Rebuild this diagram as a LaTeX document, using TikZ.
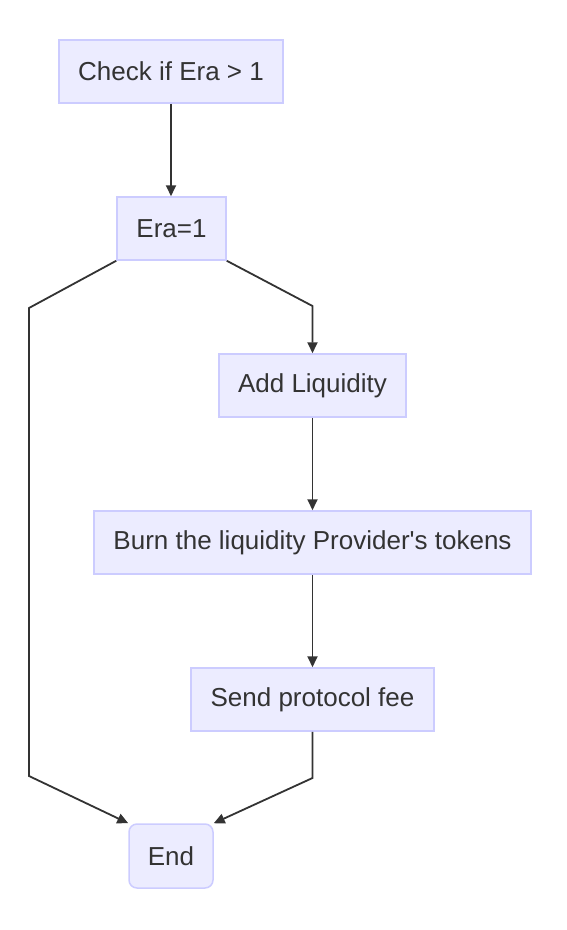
\documentclass[tikz,border=0pt]{standalone}
\usepackage{fontspec}
\setmainfont{Liberation Sans}[Ligatures=TeXOff]
\usetikzlibrary{arrows.meta}
\definecolor{nodefill}{HTML}{ECECFF}
\definecolor{nodeline}{HTML}{CCCCFF}
\definecolor{txt}{HTML}{333333}
\tikzset{
  box/.style={draw=nodeline, fill=nodefill, line width=1.5pt, text=txt,
    font=\fontsize{26pt}{30pt}\selectfont, inner sep=0pt, anchor=center},
  flow/.style={draw=txt, line width=1.8pt, -{Triangle[length=11pt,width=10pt]}},
}
\begin{document}
\begin{tikzpicture}[x=1pt,y=-1pt]
\useasboundingbox (0,0) rectangle (566,930);
\node[box, minimum width=224pt, minimum height=63pt] (check) at (171,71.5) {\raisebox{-1.5pt}{Check if Era > 1}};
\node[box, minimum width=109pt, minimum height=63pt] (era) at (171.5,228.5) {\raisebox{-1.5pt}{Era=1}};
\node[box, minimum width=187pt, minimum height=63pt] (add) at (312.5,385.5) {\raisebox{-1.5pt}{Add Liquidity}};
\node[box, minimum width=437pt, minimum height=63pt] (burn) at (312.5,542.5) {\raisebox{-1.5pt}{Burn the liquidity Provider's tokens}};
\node[box, minimum width=243pt, minimum height=63pt] (send) at (312.5,699.5) {\raisebox{-1.5pt}{Send protocol fee}};
\node[box, rounded corners=8pt, minimum width=84pt, minimum height=64pt] (end) at (171,856) {\raisebox{-1.5pt}{End}};
\coordinate (l1) at (29,308);
\coordinate (l2) at (29,776);
\coordinate (r1) at (312.5,306);
\coordinate (s1) at (312.5,778);
\draw[flow] (check.south) -- (era.north -| check.south);
\draw[flow] (era.south west) -- (l1) -- (l2) -- (end.north west);
\draw[flow] (era.south east) -- (r1) -- (add.north);
\draw[flow] (add.south) -- (burn.north);
\draw[flow] (burn.south) -- (send.north);
\draw[flow] (send.south) -- (s1) -- (end.north east);
\end{tikzpicture}
\end{document}
